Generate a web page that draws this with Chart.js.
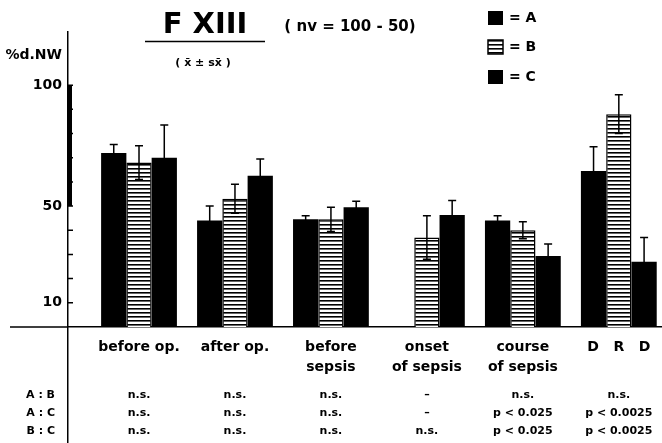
<!DOCTYPE html>
<html>
<head>
<meta charset="utf-8">
<script src="https://cdn.jsdelivr.net/npm/chart.js@4/dist/chart.umd.min.js"></script>
<style>
  html, body { margin: 0; padding: 0; background: #fff; }
  canvas { display: block; background: #fff; }
</style>
</head>
<body>
<canvas id="fxiiiChart" width="662" height="443"></canvas>
<script>
// values (% of normal value, mean +/- SEM)
var categories = ['before op.', 'after op.', ['before', 'sepsis'], ['onset', 'of sepsis'], ['course', 'of sepsis'], 'D   R   D'];
var seriesNames = ['A', 'B', 'C'];
var valuesA = [72, 44, 44.5, null, 44, 64.5];
var errorsA = [3.5, 6, 1.5, null, 2, 10];
var valuesB = [68, 53, 44.5, 37, 40, 88];
var errorsB = [7, 6, 5, 9, 3.5, 8];
var valuesC = [70, 62.5, 49.5, 46.3, 29.3, 27];
var errorsC = [13.5, 7, 2.5, 6, 5, 10];
var yTickLabels = [10, 50, 100];
var yMinorTicks = [10, 20, 30, 40, 50, 60, 70, 80, 90, 100];
var normalRange = [50, 100];
var compareRows = ['A : B', 'A : C', 'B : C'];
var compareAB = ['n.s.', 'n.s.', 'n.s.', '–', 'n.s.', 'n.s.'];
var compareAC = ['n.s.', 'n.s.', 'n.s.', '–', 'p < 0.025', 'p < 0.0025'];
var compareBC = ['n.s.', 'n.s.', 'n.s.', 'n.s.', 'p < 0.025', 'p < 0.0025'];

var FONT = '"DejaVu Sans", sans-serif';

function toPoints(vals) {
    return vals.map(function(v, i) { return { x: i, y: v }; });
}

function noPadding(s) {
    s.paddingLeft = 0;
    s.paddingRight = 0;
    s.paddingTop = 0;
    s.paddingBottom = 0;
}

// horizontal stripe fill for group B
var stripeCanvas = document.createElement('canvas');
stripeCanvas.width = 4;
stripeCanvas.height = 4;
var sg = stripeCanvas.getContext('2d');
sg.fillStyle = '#fff';
sg.fillRect(0, 0, 4, 4);
sg.fillStyle = '#000';
sg.fillRect(0, 0, 4, 1.6);
var stripes = sg.createPattern(stripeCanvas, 'repeat');

var errorBars = {
    id: 'errorBars',
    afterDatasetsDraw: function(chart) {
        var ctx = chart.ctx;
        var y = chart.scales.y;
        ctx.save();
        ctx.strokeStyle = '#000';
        ctx.lineWidth = 1.5;
        chart.data.datasets.forEach(function(ds, i) {
            var meta = chart.getDatasetMeta(i);
            meta.data.forEach(function(bar, j) {
                var v = ds.data[j].y, e = ds.errors[j];
                if (v == null || e == null) return;
                var top = y.getPixelForValue(v + e);
                var bot = y.getPixelForValue(v - e);
                ctx.beginPath();
                ctx.moveTo(bar.x, top);
                ctx.lineTo(bar.x, bot);
                ctx.moveTo(bar.x - 4, top);
                ctx.lineTo(bar.x + 4, top);
                ctx.moveTo(bar.x - 4, bot);
                ctx.lineTo(bar.x + 4, bot);
                ctx.stroke();
            });
        });
        ctx.restore();
    }
};

var axisDecor = {
    id: 'axisDecor',
    afterDraw: function(chart) {
        var ctx = chart.ctx;
        var y = chart.scales.y;
        var left = chart.chartArea.left;
        var zero = y.getPixelForValue(0);
        ctx.save();
        ctx.fillStyle = '#000';
        ctx.strokeStyle = '#000';
        // normal range drawn as a thick bar on the axis
        var r0 = y.getPixelForValue(normalRange[1]);
        var r1 = y.getPixelForValue(normalRange[0]);
        ctx.fillRect(left, r0, 4, r1 - r0);
        ctx.lineWidth = 1.5;
        ctx.beginPath();
        yMinorTicks.forEach(function(v) {
            var p = y.getPixelForValue(v);
            ctx.moveTo(left, p);
            ctx.lineTo(left + 5, p);
        });
        // baseline continues left of the axis
        ctx.moveTo(10, zero);
        ctx.lineTo(left, zero);
        ctx.stroke();
        ctx.font = 'bold 14px ' + FONT;
        ctx.textAlign = 'right';
        ctx.textBaseline = 'alphabetic';
        ctx.fillText('%d.NW', 62, 59);
        ctx.restore();
    }
};

var titleDecor = {
    id: 'titleDecor',
    afterDraw: function(chart) {
        var ctx = chart.ctx;
        ctx.save();
        ctx.fillStyle = '#000';
        ctx.strokeStyle = '#000';
        ctx.textAlign = 'center';
        ctx.textBaseline = 'alphabetic';
        ctx.font = 'bold 29px ' + FONT;
        ctx.fillText('F XIII', 205, 33);
        ctx.lineWidth = 1.5;
        ctx.beginPath();
        ctx.moveTo(145, 41.5);
        ctx.lineTo(265, 41.5);
        ctx.stroke();
        ctx.font = 'bold 15px ' + FONT;
        ctx.fillText('( nv = 100 - 50)', 350, 31);
        ctx.font = 'bold 11px ' + FONT;
        ctx.fillText('( x\u0304 \u00b1 sx\u0304 )', 203, 66);
        ctx.restore();
    }
};

var legendBoxes = {
    id: 'legendBoxes',
    afterDraw: function(chart) {
        var ctx = chart.ctx;
        var rows = [18, 47, 77];
        ctx.save();
        ctx.font = 'bold 14px ' + FONT;
        ctx.textAlign = 'left';
        ctx.textBaseline = 'middle';
        chart.data.datasets.forEach(function(ds, i) {
            var cy = rows[i];
            ctx.fillStyle = ds.backgroundColor;
            ctx.fillRect(488, cy - 7, 15, 14);
            if (ds.borderWidth) {
                ctx.strokeStyle = '#000';
                ctx.lineWidth = 1.5;
                ctx.strokeRect(488, cy - 7, 15, 14);
            }
            ctx.fillStyle = '#000';
            ctx.fillText('= ' + ds.label, 509, cy);
        });
        ctx.restore();
    }
};

var comparisonTable = {
    id: 'comparisonTable',
    afterDraw: function(chart) {
        var ctx = chart.ctx;
        var x = chart.scales.x;
        var rowsY = [395.5, 413.5, 431.5];
        var cells = [compareAB, compareAC, compareBC];
        ctx.save();
        ctx.fillStyle = '#000';
        ctx.font = 'bold 11px ' + FONT;
        ctx.textBaseline = 'middle';
        compareRows.forEach(function(label, r) {
            ctx.textAlign = 'right';
            ctx.fillText(label, 55, rowsY[r]);
            ctx.textAlign = 'center';
            cells[r].forEach(function(txt, i) {
                ctx.fillText(txt, x.getPixelForValue(i), rowsY[r]);
            });
        });
        ctx.restore();
    }
};

var ctx = document.getElementById('fxiiiChart').getContext('2d');
var fxiiiChart = new Chart(ctx, {
    type: 'bar',
    data: {
        datasets: [{
            label: seriesNames[0],
            data: toPoints(valuesA),
            errors: errorsA,
            backgroundColor: '#000',
            borderWidth: 0
        }, {
            label: seriesNames[1],
            data: toPoints(valuesB),
            errors: errorsB,
            backgroundColor: stripes,
            borderColor: '#000',
            borderWidth: 1.5
        }, {
            label: seriesNames[2],
            data: toPoints(valuesC),
            errors: errorsC,
            backgroundColor: '#000',
            borderWidth: 0
        }]
    },
    options: {
        responsive: false,
        animation: false,
        layout: { padding: { top: 32, left: 0, right: 0, bottom: 0 } },
        datasets: { bar: { categoryPercentage: 0.79, barPercentage: 1 } },
        plugins: {
            legend: { display: false },
            tooltip: { enabled: false }
        },
        scales: {
            x: {
                type: 'linear',
                offset: false,
                position: { y: 0 },
                min: -0.74,
                max: 5.45,
                afterBuildTicks: function(s) {
                    s.ticks = categories.map(function(c, i) { return { value: i }; });
                },
                afterFit: function(s) { s.height = 0; noPadding(s); },
                grid: { display: false, drawTicks: false },
                border: { display: true, color: '#000', width: 1.5 },
                ticks: {
                    autoSkip: false,
                    maxRotation: 0,
                    padding: 10,
                    color: '#000',
                    font: { family: FONT, size: 14, weight: 'bold', lineHeight: 1.45 },
                    callback: function(v) { return categories[v]; }
                }
            },
            y: {
                min: -48,
                max: 122,
                afterBuildTicks: function(s) {
                    s.ticks = yTickLabels.map(function(v) { return { value: v }; });
                },
                afterFit: function(s) { s.width = 68; noPadding(s); },
                grid: { display: false, drawTicks: false },
                border: { display: true, color: '#000', width: 1.5 },
                ticks: {
                    padding: 6,
                    color: '#000',
                    font: { family: FONT, size: 14, weight: 'bold' }
                }
            }
        }
    },
    plugins: [errorBars, axisDecor, titleDecor, legendBoxes, comparisonTable]
});
</script>
</body>
</html>
